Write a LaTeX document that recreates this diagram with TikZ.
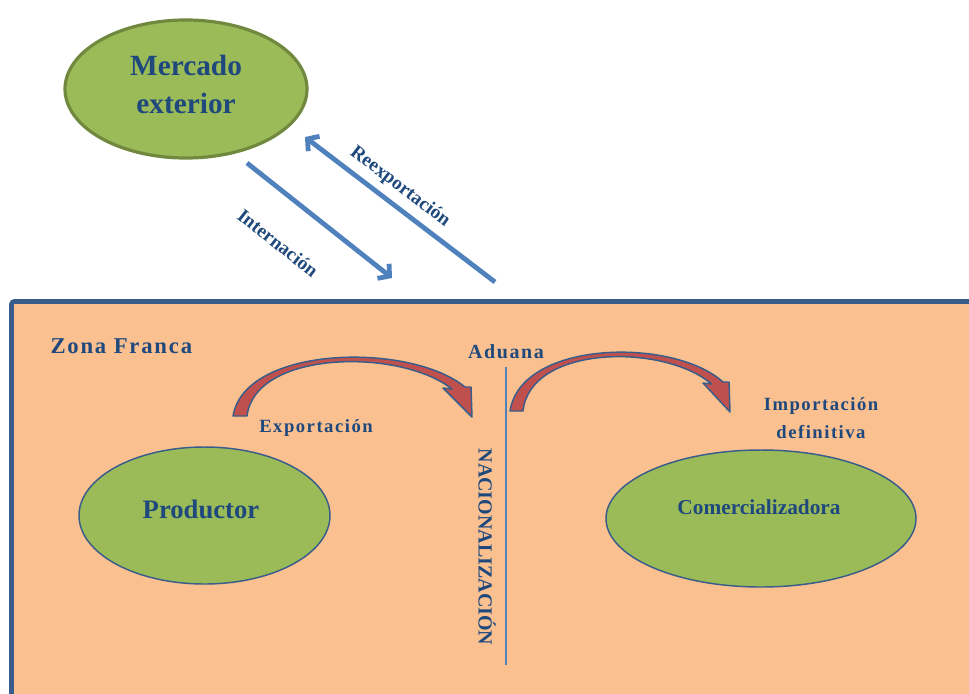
\documentclass[tikz,border=0pt]{standalone}
\usepackage{fontspec}
\setmainfont{Liberation Serif}
\newfontfamily\widefont[LetterSpace=8]{Liberation Serif}
\usetikzlibrary{arrows.meta}

\definecolor{zonefill}{RGB}{250,192,144}
\definecolor{zoneline}{RGB}{56,93,138}
\definecolor{ellgreen}{RGB}{155,187,89}
\definecolor{ellgreenline}{RGB}{113,137,63}
\definecolor{txtblue}{RGB}{31,73,125}
\definecolor{flowblue}{RGB}{79,129,189}
\definecolor{flowred}{RGB}{192,80,77}

\tikzset{every picture/.style={line width=0.75pt}}
\tikzset{
  mercshape/.style={draw=ellgreenline, line width=2.4pt, fill=ellgreen},
  zoneshape/.style={draw=zoneline, line width=1.1pt, fill=ellgreen},
  lbl/.style={text=txtblue, inner sep=0.75pt},
  flowarrow/.style={draw=flowblue, line width=3.6pt, -{Straight Barb[length=6pt,width=14pt]}},
  bentarrow/.style={fill=flowred, draw=zoneline, line width=1.1pt, line join=round},
}

\begin{document}
\begin{tikzpicture}[x=0.75pt,y=0.75pt,yscale=-1,xscale=1]
\useasboundingbox (0,0) rectangle (969,693);

%Shape: Rectangle [Zona Franca]
\draw [draw=zoneline, line width=3.4pt, fill=zonefill, rounded corners=2pt] (11.5,301.5) rectangle (1000,720);
%Straight Lines [aduana]
\draw [draw=flowblue, line width=1.1pt] (506,367) -- (506,665);

%Shape: Ellipse
\draw [mercshape] (186,89) ellipse (121 and 69);
\draw [zoneshape] (204.5,515.5) ellipse (125.5 and 68.5);
\draw [zoneshape] (761,518.5) ellipse (155 and 68.5);

% Text Node
\node [lbl, font=\fontsize{22}{28.5}\selectfont\bfseries, align=center] (mercado) at (186,84) {Mercado\\exterior};
% Text Node
\node [lbl, font=\fontsize{20}{24}\selectfont\bfseries] (productor) at (201,509) {Productor};
% Text Node
\node [lbl, font=\fontsize{16}{19}\selectfont\bfseries] (comercial) at (759,507) {Comercializadora};
% Text Node
\node [lbl, font=\widefont\fontsize{17}{20}\selectfont\bfseries, anchor=west] (zona) at (49,346) {Zona Franca};
% Text Node
\node [lbl, font=\widefont\fontsize{15}{18}\selectfont\bfseries] (aduana) at (506,352) {Aduana};
% Text Node
\node [lbl, font=\widefont\fontsize{14}{17}\selectfont\bfseries] (exporta) at (316,428) {Exportación};
% Text Node
\node [lbl, font=\widefont\fontsize{14}{21}\selectfont\bfseries, align=center] (importa) at (821,418) {Importación\\definitiva};
% Text Node
\node [lbl, font=\fontsize{15}{18}\selectfont\bfseries, rotate=-90] (nacional) at (487,547) {NACIONALIZACIÓN};
% Text Node
\node [lbl, font=\fontsize{14.5}{17}\selectfont\bfseries, rotate=-38.4] (interna) at (278,243) {Internación};
% Text Node
\node [lbl, font=\fontsize{14.5}{17}\selectfont\bfseries, rotate=-37.3] (reexpo) at (400,187) {Reexportación};

%Straight Lines [flows]
\coordinate (int-s) at (247,163);
\coordinate (int-e) at (392,278);
\coordinate (reex-s) at (495,282);
\coordinate (reex-e) at (305,137);
\draw [flowarrow] (int-s) -- (int-e);
\draw [flowarrow] (reex-s) -- (reex-e);

%Shape: Curved Arrow [exportacion]
\draw [bentarrow] (233,416) .. controls (245,345) and (410,342) .. (465,387) -- (471,387) -- (472,417) -- (443,388) -- (452,389) .. controls (400,348) and (255,350) .. (247,416) -- cycle ;
%Shape: Curved Arrow [importacion]
\draw [bentarrow] (510,411) .. controls (521,340) and (673,337) .. (723,382) -- (729,382) -- (730,412) -- (703,383) -- (711.5,384) .. controls (663.6,343) and (530,345) .. (523,411) -- cycle ;
\end{tikzpicture}
\end{document}
